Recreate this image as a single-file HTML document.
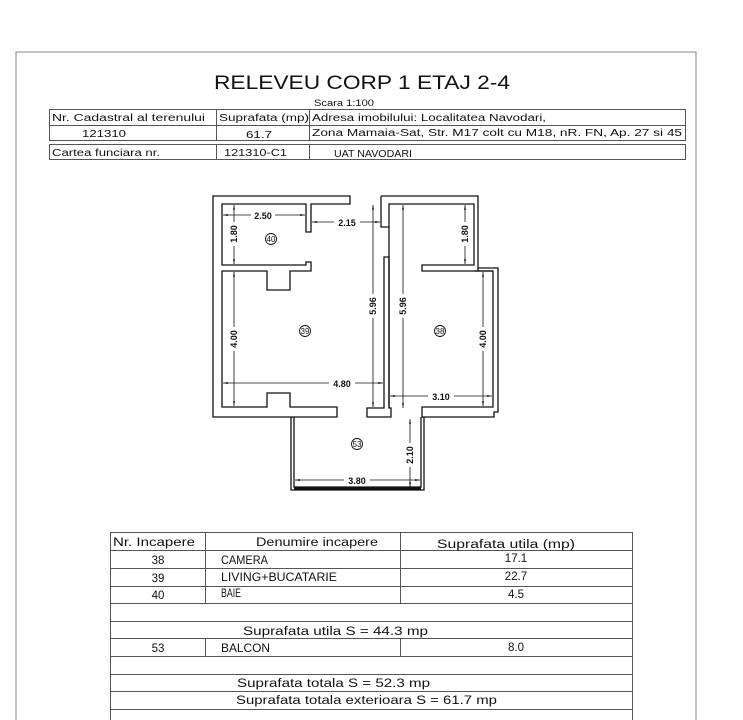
<!DOCTYPE html>
<html><head><meta charset="utf-8"><style>
html,body{margin:0;padding:0;background:#fff;width:743px;height:720px;overflow:hidden}
svg{display:block}
text{font-family:"Liberation Sans",sans-serif;fill:#111}
.t{font-size:10px}
.d{font-size:9px;font-weight:bold}
</style></head><body>
<svg width="743" height="720" viewBox="0 0 743 720" xmlns="http://www.w3.org/2000/svg">
<defs>
<marker id="a" viewBox="0 0 10 10" refX="10" refY="5" markerWidth="6" markerHeight="6" orient="auto-start-reverse"><path d="M0,3 L10,5 L0,7 z" fill="#111"/></marker>
</defs>
<path d="M16,720 V52 H696 V720" fill="none" stroke="#888" stroke-width="1"/>
<text x="214" y="89" font-size="19" textLength="296" lengthAdjust="spacingAndGlyphs">RELEVEU CORP 1 ETAJ 2-4</text>
<text x="314" y="106" font-size="9" textLength="60" lengthAdjust="spacingAndGlyphs">Scara 1:100</text>
<g fill="none" stroke="#555" stroke-width="1">
<rect x="49.5" y="109.5" width="636" height="31"/>
<line x1="49.5" y1="125.5" x2="685.5" y2="125.5"/>
<line x1="216.5" y1="109.5" x2="216.5" y2="140.5"/>
<line x1="309.5" y1="109.5" x2="309.5" y2="140.5"/>
<rect x="49.5" y="144.5" width="636" height="15"/>
<line x1="216.5" y1="144.5" x2="216.5" y2="159.5"/>
<line x1="309.5" y1="144.5" x2="309.5" y2="159.5"/>
</g>
<g class="t" font-size="10" lengthAdjust="spacingAndGlyphs">
<text x="52" y="121" font-size="10" textLength="153" lengthAdjust="spacingAndGlyphs">Nr. Cadastral al terenului</text>
<text x="219" y="121" font-size="10" textLength="90" lengthAdjust="spacingAndGlyphs">Suprafata (mp)</text>
<text x="312" y="121" font-size="10" textLength="234" lengthAdjust="spacingAndGlyphs">Adresa imobilului: Localitatea Navodari,</text>
<text x="82" y="137" font-size="10" textLength="44" lengthAdjust="spacingAndGlyphs">121310</text>
<text x="246" y="138" font-size="10" textLength="26" lengthAdjust="spacingAndGlyphs">61.7</text>
<text x="312" y="136" font-size="10" textLength="370" lengthAdjust="spacingAndGlyphs">Zona Mamaia-Sat, Str. M17 colt cu M18, nR. FN, Ap. 27 si 45</text>
<text x="52" y="156" font-size="10" textLength="108" lengthAdjust="spacingAndGlyphs">Cartea funciara nr.</text>
<text x="224" y="156" font-size="10" textLength="63" lengthAdjust="spacingAndGlyphs">121310-C1</text>
<text x="334" y="157" font-size="10" textLength="78" lengthAdjust="spacingAndGlyphs">UAT NAVODARI</text>
</g>

<g fill="none" stroke="#111" stroke-width="1.3">
<path d="M350,196 H213 V417 H337 V407 H290 V393 H267 V407 H222 V271 H267 V290 H290 V271 H311 V262 H306 V265 H222 V204 H306 V232 H311 V204 H350 Z"/>
<path d="M384,257 H389 V408 H391 V417 H367 V408 H384 Z"/>
<path d="M381,196 H478 V268 H498 V412 H494 V417 H422 V407 H493 V271 H422 V265 H474 V204 H389 V408 H389 M381,196 V227 H389"/>
<path d="M478,268 V271 M493,271 H474"/>
<path d="M291,417 V490 H424 V417 M294,417 V487 H421 V417" stroke-width="1.3"/>
<path d="M294,488.5 H421" stroke-width="2"/>
</g>
<g stroke="#111" stroke-width="0.8" fill="none">
<line x1="223" y1="215" x2="305" y2="215" marker-start="url(#a)" marker-end="url(#a)"/>
<line x1="312" y1="222" x2="380" y2="222" marker-start="url(#a)" marker-end="url(#a)"/>
<line x1="234" y1="205" x2="234" y2="264" marker-start="url(#a)" marker-end="url(#a)"/>
<line x1="234" y1="272" x2="234" y2="406" marker-start="url(#a)" marker-end="url(#a)"/>
<line x1="223" y1="383" x2="383" y2="383" marker-start="url(#a)" marker-end="url(#a)"/>
<line x1="373" y1="205" x2="373" y2="407" marker-start="url(#a)" marker-end="url(#a)"/>
<line x1="403" y1="205" x2="403" y2="408" marker-start="url(#a)" marker-end="url(#a)"/>
<line x1="465" y1="205" x2="465" y2="264" marker-start="url(#a)" marker-end="url(#a)"/>
<line x1="483" y1="272" x2="483" y2="406" marker-start="url(#a)" marker-end="url(#a)"/>
<line x1="390" y1="396" x2="492" y2="396" marker-start="url(#a)" marker-end="url(#a)"/>
<line x1="410" y1="419" x2="410" y2="487" marker-start="url(#a)" marker-end="url(#a)"/>
<line x1="295" y1="480" x2="420" y2="480" marker-start="url(#a)" marker-end="url(#a)"/>
</g>
<g>
<rect x="251" y="210" width="24" height="10" fill="#fff"/><text x="263" y="219" class="d" text-anchor="middle">2.50</text>
<rect x="334" y="217" width="26" height="10" fill="#fff"/><text x="347" y="226" class="d" text-anchor="middle">2.15</text>
<rect x="329" y="378" width="26" height="10" fill="#fff"/><text x="342" y="387" class="d" text-anchor="middle">4.80</text>
<rect x="428" y="391" width="26" height="10" fill="#fff"/><text x="441" y="400" class="d" text-anchor="middle">3.10</text>
<rect x="344" y="475" width="26" height="10" fill="#fff"/><text x="357" y="484" class="d" text-anchor="middle">3.80</text>
<g transform="translate(237,234) rotate(-90)"><rect x="-12" y="-9" width="24" height="10" fill="#fff"/><text class="d" text-anchor="middle">1.80</text></g>
<g transform="translate(237,339) rotate(-90)"><rect x="-12" y="-9" width="24" height="10" fill="#fff"/><text class="d" text-anchor="middle">4.00</text></g>
<g transform="translate(376,306) rotate(-90)"><rect x="-12" y="-9" width="24" height="10" fill="#fff"/><text class="d" text-anchor="middle">5.96</text></g>
<g transform="translate(406,306) rotate(-90)"><rect x="-12" y="-9" width="24" height="10" fill="#fff"/><text class="d" text-anchor="middle">5.96</text></g>
<g transform="translate(468,234) rotate(-90)"><rect x="-12" y="-9" width="24" height="10" fill="#fff"/><text class="d" text-anchor="middle">1.80</text></g>
<g transform="translate(486,339) rotate(-90)"><rect x="-12" y="-9" width="24" height="10" fill="#fff"/><text class="d" text-anchor="middle">4.00</text></g>
<g transform="translate(413,455) rotate(-90)"><rect x="-12" y="-9" width="24" height="10" fill="#fff"/><text class="d" text-anchor="middle">2.10</text></g>
</g>
<g fill="none" stroke="#111" stroke-width="0.9">
<circle cx="271" cy="239" r="5.5"/><circle cx="305" cy="331" r="5.5"/>
<circle cx="440" cy="331" r="5.5"/><circle cx="357" cy="444" r="5.5"/>
</g>
<g text-anchor="middle">
<text x="271" y="242" font-size="8">40</text><text x="305" y="334" font-size="8">39</text>
<text x="440" y="334" font-size="8">38</text><text x="357" y="447" font-size="8">53</text>
</g>

<g fill="none" stroke="#555" stroke-width="1">
<path d="M110.5,720 V532.5 H632.5 V720"/>
<line x1="110.5" y1="550.5" x2="632.5" y2="550.5"/>
<line x1="110.5" y1="568.5" x2="632.5" y2="568.5"/>
<line x1="110.5" y1="586.5" x2="632.5" y2="586.5"/>
<line x1="110.5" y1="603.5" x2="632.5" y2="603.5"/>
<line x1="110.5" y1="621.5" x2="632.5" y2="621.5"/>
<line x1="110.5" y1="638.5" x2="632.5" y2="638.5"/>
<line x1="110.5" y1="656.5" x2="632.5" y2="656.5"/>
<line x1="110.5" y1="674.5" x2="632.5" y2="674.5"/>
<line x1="110.5" y1="691.5" x2="632.5" y2="691.5"/>
<line x1="110.5" y1="709.5" x2="632.5" y2="709.5"/>
<line x1="205.5" y1="532.5" x2="205.5" y2="603.5"/>
<line x1="400.5" y1="532.5" x2="400.5" y2="603.5"/>
<line x1="205.5" y1="638.5" x2="205.5" y2="656.5"/>
<line x1="400.5" y1="638.5" x2="400.5" y2="656.5"/>
</g>
<g font-size="11.5">
<text x="113" y="546" textLength="82" lengthAdjust="spacingAndGlyphs">Nr. Incapere</text>
<text x="256" y="546" textLength="122" lengthAdjust="spacingAndGlyphs">Denumire incapere</text>
<text x="437" y="548" textLength="138" lengthAdjust="spacingAndGlyphs">Suprafata utila (mp)</text>
<text x="158" y="564" text-anchor="middle">38</text><text x="221" y="564" textLength="47" lengthAdjust="spacingAndGlyphs">CAMERA</text><text x="516" y="562" text-anchor="middle">17.1</text>
<text x="158" y="582" text-anchor="middle">39</text><text x="221" y="581" textLength="116" lengthAdjust="spacingAndGlyphs">LIVING+BUCATARIE</text><text x="516" y="580" text-anchor="middle">22.7</text>
<text x="158" y="599" text-anchor="middle">40</text><text x="221" y="597" textLength="20" lengthAdjust="spacingAndGlyphs">BAIE</text><text x="516" y="598" text-anchor="middle">4.5</text>
<text x="243" y="635" textLength="185" lengthAdjust="spacingAndGlyphs">Suprafata utila S = 44.3 mp</text>
<text x="158" y="652" text-anchor="middle">53</text><text x="221" y="652" textLength="49" lengthAdjust="spacingAndGlyphs">BALCON</text><text x="516" y="651" text-anchor="middle">8.0</text>
<text x="237" y="687" textLength="193" lengthAdjust="spacingAndGlyphs">Suprafata totala S = 52.3 mp</text>
<text x="236" y="704" textLength="261" lengthAdjust="spacingAndGlyphs">Suprafata totala exterioara S = 61.7 mp</text>
</g>
</svg>
</body></html>
